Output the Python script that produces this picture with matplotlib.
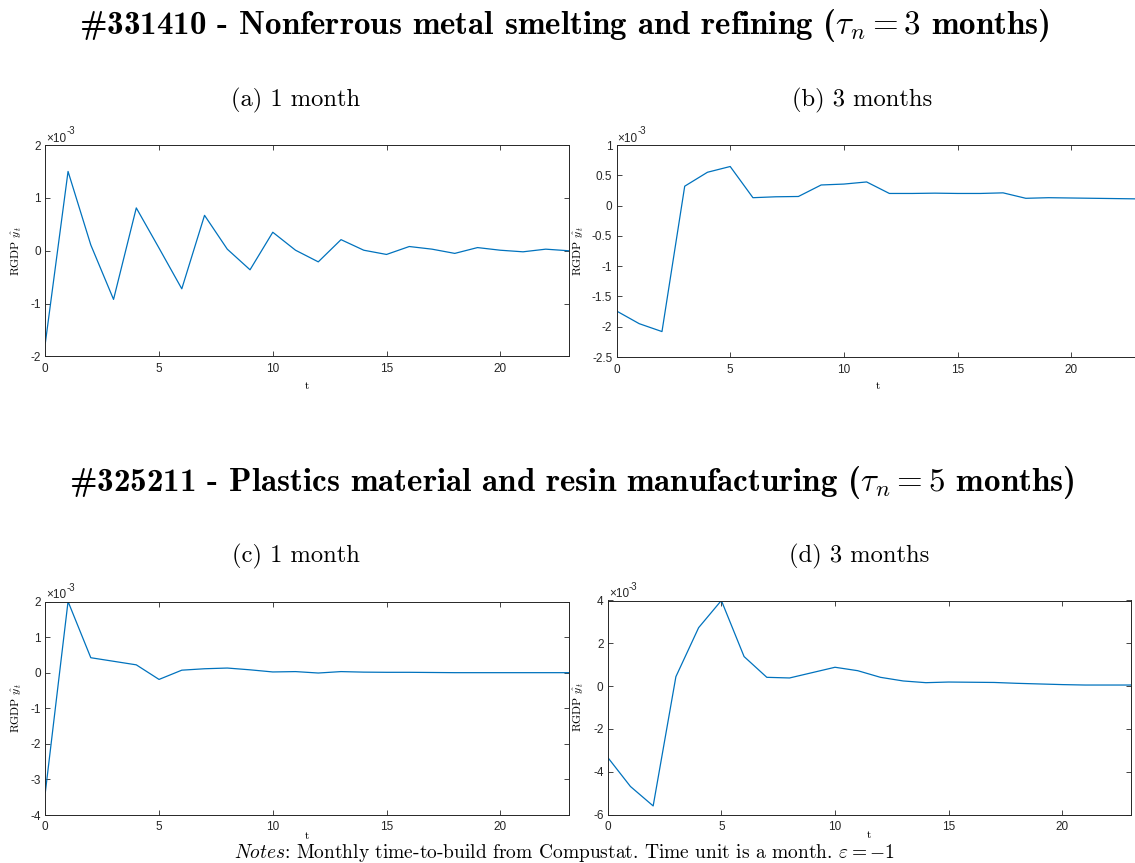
import numpy as np
import matplotlib
matplotlib.use("Agg")
import matplotlib.pyplot as plt

plt.rcParams["mathtext.fontset"] = "cm"
plt.rcParams["axes.unicode_minus"] = False

# impulse responses, values in units of 1e-3
t = np.arange(24)
a_vals = [-1.75, 1.50, 0.11, -0.92, 0.81, 0.05, -0.72, 0.67, 0.03, -0.36, 0.35, 0.01,
          -0.21, 0.21, 0.01, -0.07, 0.08, 0.03, -0.05, 0.06, 0.01, -0.02, 0.03, 0.0]
b_vals = [-1.74, -1.95, -2.08, 0.32, 0.55, 0.645, 0.13, 0.145, 0.15, 0.34, 0.355, 0.39,
          0.20, 0.20, 0.205, 0.20, 0.20, 0.21, 0.12, 0.13, 0.125, 0.12, 0.115, 0.11]
c_vals = [-3.37, 2.0, 0.42, 0.32, 0.22, -0.19, 0.07, 0.11, 0.13, 0.08, 0.02, 0.03,
          -0.01, 0.03, 0.015, 0.01, 0.01, 0.005, 0.0, 0.0, 0.0, 0.0, 0.0, 0.0]
d_vals = [-3.33, -4.69, -5.6, 0.44, 2.73, 4.0, 1.38, 0.41, 0.38, 0.63, 0.88, 0.72,
          0.41, 0.24, 0.16, 0.19, 0.18, 0.17, 0.13, 0.10, 0.07, 0.05, 0.05, 0.05]

titles = ["#331410 - Nonferrous metal smelting and refining ($\\tau_n = 3$ months)",
          "#325211 - Plastics material and resin manufacturing ($\\tau_n = 5$ months)"]
sub_titles = ["(a) 1 month", "(b) 3 months", "(c) 1 month", "(d) 3 months"]
x_ticks = [0, 5, 10, 15, 20]
y_ticks = [[-2, -1, 0, 1, 2],
           [-2.5, -2, -1.5, -1, -0.5, 0, 0.5, 1],
           [-4, -3, -2, -1, 0, 1, 2],
           [-6, -4, -2, 0, 2, 4]]
notes = "$\\it{Notes}$: Monthly time-to-build from Compustat. Time unit is a month. $\\varepsilon = -1$"

W, H = 1135, 863
fig = plt.figure(figsize=(W / 100, H / 100), dpi=100)

def px_rect(l, top, r, b):
    return [l / W, 1 - b / H, (r - l) / W, (b - top) / H]

# left, top, right, bottom in pixels; ylabel x; subtitle x
boxes = [(45.3, 145, 568.5, 356.5, 24, 296),
         (616.5, 145, 1139.5, 357, 586, 862),
         (45.3, 601.5, 568.5, 815, 24, 296),
         (607.7, 600.5, 1130.5, 814.5, 586, 859)]
series = [a_vals, b_vals, c_vals, d_vals]
line_col = "#0072BD"
ink = "#262626"

for i, (l, top, r, b, ylx, stx) in enumerate(boxes):
    ax = fig.add_axes(px_rect(l, top, r, b))
    ax.plot(t, series[i], color=line_col, lw=0.9)
    ax.set_xlim(0, 23)
    ax.set_ylim(y_ticks[i][0], y_ticks[i][-1])
    ax.set_xticks(x_ticks)
    ax.set_yticks(y_ticks[i])
    ax.set_yticklabels([f"{v:g}" for v in y_ticks[i]])
    ax.tick_params(direction="in", length=3.3, width=0.6, colors=ink,
                   top=True, right=True, labelsize=8.5)
    ax.tick_params(axis="x", pad=5 if i < 2 else 4.5)
    ax.tick_params(axis="y", pad=3)
    for lab in ax.get_xticklabels() + ax.get_yticklabels():
        lab.set_fontfamily("Liberation Sans")
    for sp in ax.spines.values():
        sp.set_color(ink)
        sp.set_linewidth(0.7)
    ax.set_xlabel("t", family="cmr10", fontsize=8, labelpad=4 if i < 2 else -1.5)
    ax.set_ylabel("RGDP $\\hat{y}_t$", family="cmr10", fontsize=8.5)
    ax.yaxis.set_label_coords((ylx - l) / (r - l), 0.5)
    e1 = ax.annotate("×10", xy=(0, 1), xycoords="axes fraction", xytext=(0.8, 0.3),
                     textcoords="offset points", ha="left", va="bottom",
                     fontsize=8.5, family="Liberation Sans", color=ink)
    ax.annotate("-3", xy=(1, 0.7), xycoords=e1, ha="left", va="bottom",
                fontsize=7, family="Liberation Sans", color=ink)
    fig.text(stx / W, 1 - (100 if i < 2 else 556) / H, sub_titles[i],
             family="cmr10", fontsize=17.7, ha="center", va="center")

fig.text(564 / W, 1 - 25 / H, titles[0], family="cmb10", fontsize=23.8,
         ha="center", va="center")
fig.text(572 / W, 1 - 482 / H, titles[1], family="cmb10", fontsize=23.8,
         ha="center", va="center")
fig.text(564 / W, 1 - 858 / H, notes, family="cmr10", fontsize=14,
         ha="center", va="baseline")

fig.savefig("out.png", dpi=100)
